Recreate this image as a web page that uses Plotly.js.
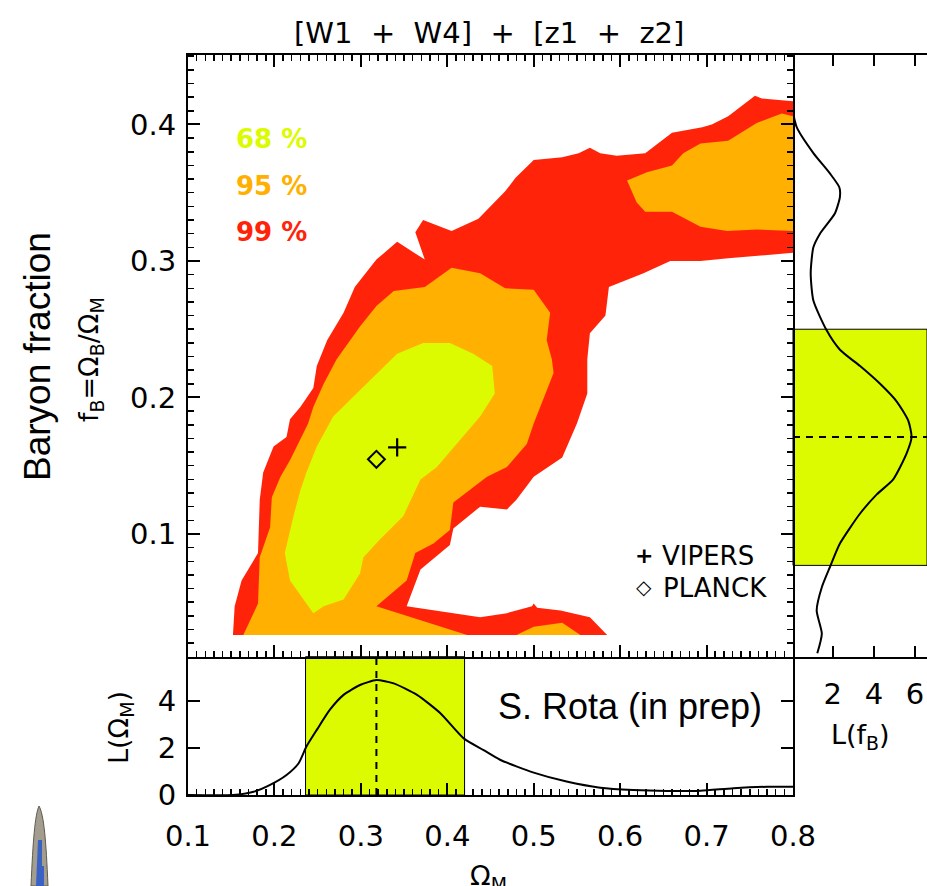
<!DOCTYPE html>
<html>
<head>
<meta charset="utf-8">
<script src="https://cdn.plot.ly/plotly-3.0.1.min.js"></script>
<style>html,body{margin:0;padding:0;background:#fff;}#chart{width:927px;height:886px;}</style>
</head>
<body>
<div id="chart"></div>
<script>
// ---------------- DATA ----------------
// 99% contour (outer boundary)
const c99_om = [0.152,0.154,0.162,0.181,0.183,0.187,0.199,0.214,0.218,0.230,0.245,0.249,0.261,0.280,0.293,0.318,0.342,0.374,0.363,0.372,0.405,0.436,0.467,0.479,0.500,0.533,0.552,0.565,0.577,0.596,0.629,0.660,0.695,0.706,0.725,0.756,0.764,0.800,0.800,0.758,0.725,0.693,0.658,0.627,0.587,0.583,0.565,0.562,0.562,0.550,0.533,0.500,0.480,0.469,0.438,0.407,0.403,0.369,0.353,0.438,0.469,0.498,0.500,0.504,0.531,0.565,0.585];
const c99_fb = [0.026,0.047,0.066,0.086,0.125,0.145,0.164,0.171,0.184,0.193,0.207,0.223,0.242,0.262,0.281,0.301,0.314,0.301,0.321,0.330,0.322,0.331,0.351,0.361,0.374,0.376,0.379,0.383,0.379,0.377,0.379,0.394,0.398,0.400,0.406,0.421,0.419,0.417,0.306,0.304,0.302,0.300,0.300,0.291,0.281,0.260,0.247,0.228,0.203,0.181,0.156,0.142,0.125,0.118,0.120,0.104,0.092,0.074,0.047,0.039,0.042,0.047,0.049,0.046,0.044,0.039,0.026];
// 95% contour: main lobe, small bottom patch, upper-right arm
const c95a_om = [0.164,0.181,0.183,0.195,0.197,0.207,0.218,0.230,0.239,0.245,0.257,0.272,0.299,0.318,0.338,0.374,0.405,0.438,0.467,0.500,0.519,0.515,0.521,0.523,0.500,0.492,0.469,0.446,0.407,0.403,0.384,0.363,0.353,0.318,0.423];
const c95a_fb = [0.026,0.049,0.083,0.105,0.127,0.142,0.154,0.169,0.181,0.193,0.210,0.228,0.252,0.267,0.278,0.281,0.295,0.291,0.280,0.279,0.262,0.242,0.228,0.218,0.181,0.166,0.149,0.142,0.123,0.103,0.093,0.086,0.066,0.047,0.026];
const c95b_om = [0.480,0.500,0.533,0.554];
const c95b_fb = [0.026,0.032,0.035,0.026];
const c95c_om = [0.608,0.631,0.660,0.673,0.693,0.725,0.758,0.787,0.800,0.800,0.758,0.724,0.693,0.660,0.629,0.619];
const c95c_fb = [0.359,0.365,0.370,0.379,0.386,0.388,0.401,0.408,0.406,0.322,0.323,0.322,0.325,0.336,0.336,0.343];
// 68% contour
const c68_om = [0.245,0.218,0.212,0.222,0.230,0.237,0.249,0.268,0.295,0.322,0.342,0.372,0.403,0.430,0.452,0.455,0.438,0.415,0.388,0.369,0.349,0.322,0.303,0.299,0.280,0.257];
const c68_fb = [0.042,0.066,0.086,0.113,0.132,0.145,0.164,0.186,0.203,0.220,0.232,0.240,0.240,0.232,0.223,0.203,0.186,0.169,0.149,0.140,0.113,0.096,0.083,0.071,0.052,0.047];
// reference points
const vipers = {om: [0.342], fb: [0.1635]};
const planck = {om: [0.318], fb: [0.1547]};
// marginal likelihood L(Omega_M)
const lom_x = [0.100,0.152,0.176,0.195,0.214,0.228,0.237,0.249,0.264,0.280,0.299,0.318,0.338,0.365,0.392,0.419,0.442,0.461,0.500,0.538,0.577,0.615,0.654,0.693,0.731,0.770,0.800];
const lom_y = [0.00,0.00,0.14,0.43,0.85,1.35,2.06,2.77,3.62,4.26,4.68,4.89,4.75,4.26,3.48,2.41,1.91,1.50,0.95,0.57,0.31,0.21,0.17,0.18,0.29,0.35,0.35];
// marginal likelihood L(f_B)
const lfb_L = [0.00,0.25,1.06,1.87,2.32,2.35,2.11,1.38,1.06,0.93,1.06,1.71,2.35,3.33,4.30,5.11,5.67,5.83,5.59,4.94,4.14,3.33,2.35,1.87,1.47,1.22,1.47,1.25];
const lfb_f = [0.414,0.398,0.379,0.364,0.354,0.347,0.335,0.320,0.310,0.291,0.271,0.249,0.235,0.223,0.210,0.197,0.183,0.171,0.159,0.140,0.129,0.115,0.093,0.076,0.061,0.044,0.027,0.0126];
// 68% intervals and best values
const omBand = [0.236, 0.420], omBest = 0.318;
const fbBand = [0.077, 0.250], fbBest = 0.171;
const levelLabels = ['68 %', '95 %', '99 %'];

// ---------------- STYLE ----------------
const YEL = '#DCFB00', ORA = '#FFB000', RED = '#FF2409';
const W = 927, H = 886;
const PX = x => x / W, PY = y => 1 - y / H;
const tickFont = {family: 'DejaVu Sans', size: 29, color: '#000'};
const lab = {family: 'DejaVu Sans', size: 27, color: '#000'};

function poly(x, y, col, xa, ya) {
  return {x: x.concat([x[0]]), y: y.concat([y[0]]), type: 'scatter', mode: 'lines', fill: 'toself',
          fillcolor: col, line: {width: 0, color: col}, hoverinfo: 'skip', xaxis: xa || 'x', yaxis: ya || 'y'};
}

const traces = [
  poly(c99_om, c99_fb, RED),
  poly(c95a_om, c95a_fb, ORA),
  poly(c95b_om, c95b_fb, ORA),
  poly(c95c_om, c95c_fb, ORA),
  poly(c68_om, c68_fb, YEL),
  {x: vipers.om, y: vipers.fb, type: 'scatter', mode: 'markers', xaxis: 'x', yaxis: 'y',
   marker: {symbol: 'cross-thin-open', size: 13, line: {width: 2.2, color: '#000'}, color: '#000'}},
  {x: planck.om, y: planck.fb, type: 'scatter', mode: 'markers', xaxis: 'x', yaxis: 'y',
   marker: {symbol: 'diamond-open', size: 13, line: {width: 2, color: '#000'}, color: '#000'}},
  {x: lom_x, y: lom_y, type: 'scatter', mode: 'lines', line: {color: '#000', width: 2, shape: 'spline', smoothing: 0.6},
   xaxis: 'x2', yaxis: 'y2'},
  {x: lfb_L, y: lfb_f, type: 'scatter', mode: 'lines', line: {color: '#000', width: 2, shape: 'spline', smoothing: 0.6},
   xaxis: 'x3', yaxis: 'y3'}
];

const xMainDom = [PX(188), PX(793)], xRightDom = [PX(793), 1];
const yMainDom = [PY(656.7), PY(55)], yBotDom = [PY(795), PY(656.7)];
const yMainRange = [0.0101, 0.4509];
const minorX = {ticks: 'inside', dtick: 0.01, ticklen: 6, tickwidth: 1.5, tickcolor: '#000'};

const baseAxis = {showline: true, linecolor: '#000', linewidth: 2, showgrid: false, zeroline: false,
                  ticks: 'inside', tickcolor: '#000', tickwidth: 2, ticklen: 12, tickfont: tickFont, mirror: 'allticks'};

const layout = {
  width: W, height: H, margin: {l: 0, r: 0, t: 0, b: 0}, showlegend: false,
  paper_bgcolor: '#fff', plot_bgcolor: 'rgba(0,0,0,0)',
  xaxis: Object.assign({}, baseAxis, {domain: xMainDom, range: [0.1, 0.8], anchor: 'y', showticklabels: false,
         dtick: 0.1, tick0: 0, minor: minorX}),
  yaxis: Object.assign({}, baseAxis, {domain: yMainDom, range: yMainRange, anchor: 'x', dtick: 0.1, tick0: 0,
         ticklabelstandoff: 4, minor: minorX}),
  // explicit top / right tick rows of the main panel
  xaxis4: Object.assign({}, baseAxis, {domain: xMainDom, range: [0.1, 0.8], anchor: 'y', overlaying: 'x', side: 'top',
         mirror: false, showticklabels: false, dtick: 0.1, tick0: 0, minor: minorX}),
  yaxis4: Object.assign({}, baseAxis, {domain: yMainDom, range: yMainRange, anchor: 'x', overlaying: 'y', side: 'right',
         mirror: false, showticklabels: false, dtick: 0.1, tick0: 0, minor: minorX}),
  xaxis2: Object.assign({}, baseAxis, {domain: xMainDom, range: [0.1, 0.8], anchor: 'y2', mirror: false,
         dtick: 0.1, tick0: 0, ticklabelstandoff: 14, minor: minorX}),
  yaxis2: Object.assign({}, baseAxis, {domain: yBotDom, range: [0, 5.885], anchor: 'x2', dtick: 2, tick0: 0,
         ticklabelstandoff: 4}),
  xaxis3: Object.assign({}, baseAxis, {domain: xRightDom, range: [0.07, 6.58], anchor: 'y3', dtick: 2, tick0: 0,
         ticklen: 11, ticklabelstandoff: 10}),
  yaxis3: {domain: yMainDom, range: yMainRange, anchor: 'x3', showline: false, showgrid: false, zeroline: false,
           ticks: '', showticklabels: false},
  shapes: [
    {type: 'rect', xref: 'x2', yref: 'y2 domain', x0: omBand[0], x1: omBand[1], y0: 0, y1: 1,
     fillcolor: YEL, line: {color: '#000', width: 1}, layer: 'below'},
    {type: 'line', xref: 'x2', yref: 'y2 domain', x0: omBest, x1: omBest, y0: 0, y1: 1,
     line: {color: '#000', width: 2, dash: '7px,6px'}},
    {type: 'rect', xref: 'x3 domain', yref: 'y3', x0: 0, x1: 1, y0: fbBand[0], y1: fbBand[1],
     fillcolor: YEL, line: {color: '#000', width: 1}, layer: 'below'},
    {type: 'line', xref: 'x3 domain', yref: 'y3', x0: 0, x1: 1, y0: fbBest, y1: fbBest,
     line: {color: '#000', width: 2, dash: '7px,6px'}},
    // small logo fragment at bottom-left
    {type: 'path', xref: 'paper', yref: 'paper',
     path: `M ${PX(39)} ${PY(806)} C ${PX(35)} ${PY(815)} ${PX(33)} ${PY(840)} ${PX(31)} ${PY(886)} L ${PX(48)} ${PY(886)} C ${PX(46)} ${PY(840)} ${PX(44)} ${PY(815)} ${PX(39)} ${PY(806)} Z`,
     fillcolor: '#a29d8e', line: {color: '#5e5a50', width: 1}},
    {type: 'path', xref: 'paper', yref: 'paper',
     path: `M ${PX(38)} ${PY(840)} L ${PX(42)} ${PY(840)} L ${PX(42)} ${PY(866)} L ${PX(44)} ${PY(866)} L ${PX(44)} ${PY(886)} L ${PX(36)} ${PY(886)} Z`,
     fillcolor: '#3a62c4', line: {width: 0}}
  ],
  annotations: [
    {text: '[W1\u00a0\u00a0+\u00a0\u00a0W4]\u00a0\u00a0+\u00a0\u00a0[z1\u00a0\u00a0+\u00a0\u00a0z2]',
     x: PX(489), y: PY(33), xanchor: 'center', yanchor: 'middle', font: {family: 'DejaVu Sans', size: 29, color: '#000'}},
    {text: levelLabels[0], x: PX(234), y: PY(139), xanchor: 'left', yanchor: 'middle',
     font: {family: 'DejaVu Sans', size: 26, weight: 'bold', color: YEL}},
    {text: levelLabels[1], x: PX(234), y: PY(186), xanchor: 'left', yanchor: 'middle',
     font: {family: 'DejaVu Sans', size: 26, weight: 'bold', color: ORA}},
    {text: levelLabels[2], x: PX(234), y: PY(232), xanchor: 'left', yanchor: 'middle',
     font: {family: 'DejaVu Sans', size: 26, weight: 'bold', color: RED}},
    {text: '+', x: PX(644), y: PY(555), xanchor: 'center', yanchor: 'middle',
     font: {family: 'DejaVu Sans', size: 22, weight: 'bold', color: '#000'}},
    {text: 'VIPERS', x: PX(660), y: PY(556), xanchor: 'left', yanchor: 'middle',
     font: {family: 'DejaVu Sans', size: 26, color: '#000'}},
    {text: '\u25C7', x: PX(644), y: PY(587), xanchor: 'center', yanchor: 'middle',
     font: {family: 'DejaVu Sans', size: 20, weight: 'bold', color: '#000'}},
    {text: 'PLANCK', x: PX(661), y: PY(588), xanchor: 'left', yanchor: 'middle',
     font: {family: 'DejaVu Sans', size: 26, color: '#000'}},
    {text: 'S. Rota (in prep)', x: PX(496), y: PY(706), xanchor: 'left', yanchor: 'middle',
     font: {family: 'Liberation Sans', size: 36, color: '#000'}},
    {text: 'Baryon fraction', x: PX(37), y: PY(357), xanchor: 'center', yanchor: 'middle', textangle: -90,
     font: {family: 'Liberation Sans', size: 37, color: '#000'}},
    {text: 'f<sub>B</sub>=Ω<sub>B</sub>/Ω<sub>M</sub>', x: PX(91), y: PY(360), xanchor: 'center', yanchor: 'middle',
     textangle: -90, font: lab},
    {text: 'L(Ω<sub>M</sub>)', x: PX(120), y: PY(727), xanchor: 'center', yanchor: 'middle', textangle: -90, font: lab},
    {text: 'L(f<sub>B</sub>)', x: PX(860), y: PY(736), xanchor: 'center', yanchor: 'middle', font: lab},
    {text: 'Ω<sub>M</sub>', x: PX(489), y: PY(858), xanchor: 'center', yanchor: 'top', font: lab}
  ].map(a => Object.assign({xref: 'paper', yref: 'paper', showarrow: false}, a))
};

Plotly.newPlot('chart', traces, layout, {staticPlot: true, displayModeBar: false});
</script>
</body>
</html>
